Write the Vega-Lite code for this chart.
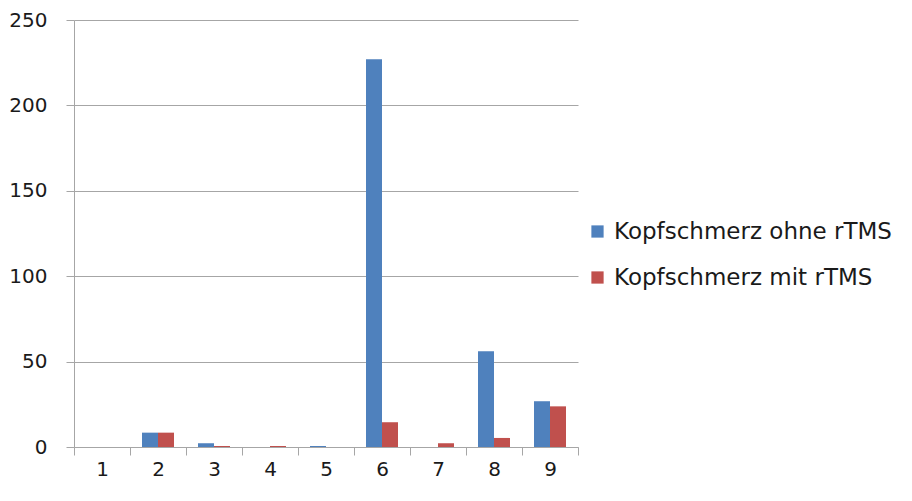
{
  "$schema": "https://vega.github.io/schema/vega-lite/v6.json",
  "width": 504,
  "height": 427,
  "autosize": {"type": "none"},
  "padding": {"left": 74, "top": 20, "right": 334, "bottom": 54},
  "background": "white",
  "config": {"view": {"stroke": null}, "font": "DejaVu Sans"},
  "data": {
    "values": [
      {"cat": "1", "series": "Kopfschmerz ohne rTMS", "value": 0},
      {"cat": "1", "series": "Kopfschmerz mit rTMS", "value": 0},
      {"cat": "2", "series": "Kopfschmerz ohne rTMS", "value": 8.4},
      {"cat": "2", "series": "Kopfschmerz mit rTMS", "value": 8.4},
      {"cat": "3", "series": "Kopfschmerz ohne rTMS", "value": 2.2},
      {"cat": "3", "series": "Kopfschmerz mit rTMS", "value": 0.6},
      {"cat": "4", "series": "Kopfschmerz ohne rTMS", "value": 0},
      {"cat": "4", "series": "Kopfschmerz mit rTMS", "value": 0.6},
      {"cat": "5", "series": "Kopfschmerz ohne rTMS", "value": 0.6},
      {"cat": "5", "series": "Kopfschmerz mit rTMS", "value": 0},
      {"cat": "6", "series": "Kopfschmerz ohne rTMS", "value": 227},
      {"cat": "6", "series": "Kopfschmerz mit rTMS", "value": 14.5},
      {"cat": "7", "series": "Kopfschmerz ohne rTMS", "value": 0},
      {"cat": "7", "series": "Kopfschmerz mit rTMS", "value": 2.2},
      {"cat": "8", "series": "Kopfschmerz ohne rTMS", "value": 56},
      {"cat": "8", "series": "Kopfschmerz mit rTMS", "value": 5.3},
      {"cat": "9", "series": "Kopfschmerz ohne rTMS", "value": 26.8},
      {"cat": "9", "series": "Kopfschmerz mit rTMS", "value": 23.8}
    ]
  },
  "mark": {"type": "bar"},
  "encoding": {
    "x": {
      "field": "cat",
      "type": "nominal",
      "scale": {"paddingInner": 0, "paddingOuter": 0},
      "axis": {
        "title": null,
        "labelAngle": 0,
        "tickBand": "extent",
        "tickSize": 8,
        "tickColor": "#a6a6a6",
        "domainColor": "#a6a6a6",
        "labelFontSize": 20,
        "labelColor": "#1a1a1a",
        "labelPadding": 4
      }
    },
    "xOffset": {
      "field": "series",
      "type": "nominal",
      "sort": ["Kopfschmerz ohne rTMS", "Kopfschmerz mit rTMS"],
      "scale": {"paddingInner": 0, "paddingOuter": 0.75}
    },
    "y": {
      "field": "value",
      "type": "quantitative",
      "scale": {"domain": [0, 250], "nice": false},
      "axis": {
        "title": null,
        "values": [0, 50, 100, 150, 200, 250],
        "tickSize": 8,
        "tickColor": "#a6a6a6",
        "domainColor": "#a6a6a6",
        "gridColor": "#a6a6a6",
        "labelFontSize": 20,
        "labelColor": "#1a1a1a",
        "labelPadding": 19
      }
    },
    "color": {
      "field": "series",
      "type": "nominal",
      "sort": ["Kopfschmerz ohne rTMS", "Kopfschmerz mit rTMS"],
      "scale": {"range": ["#4f81bd", "#c0504d"]},
      "legend": {
        "title": null,
        "orient": "none",
        "legendX": 512,
        "legendY": 200,
        "symbolType": "square",
        "symbolSize": 150,
        "symbolStrokeWidth": 0,
        "symbolOpacity": 1,
        "labelFontSize": 23,
        "labelColor": "#1a1a1a",
        "labelLimit": 400,
        "rowPadding": 22,
        "labelOffset": 5
      }
    }
  }
}
